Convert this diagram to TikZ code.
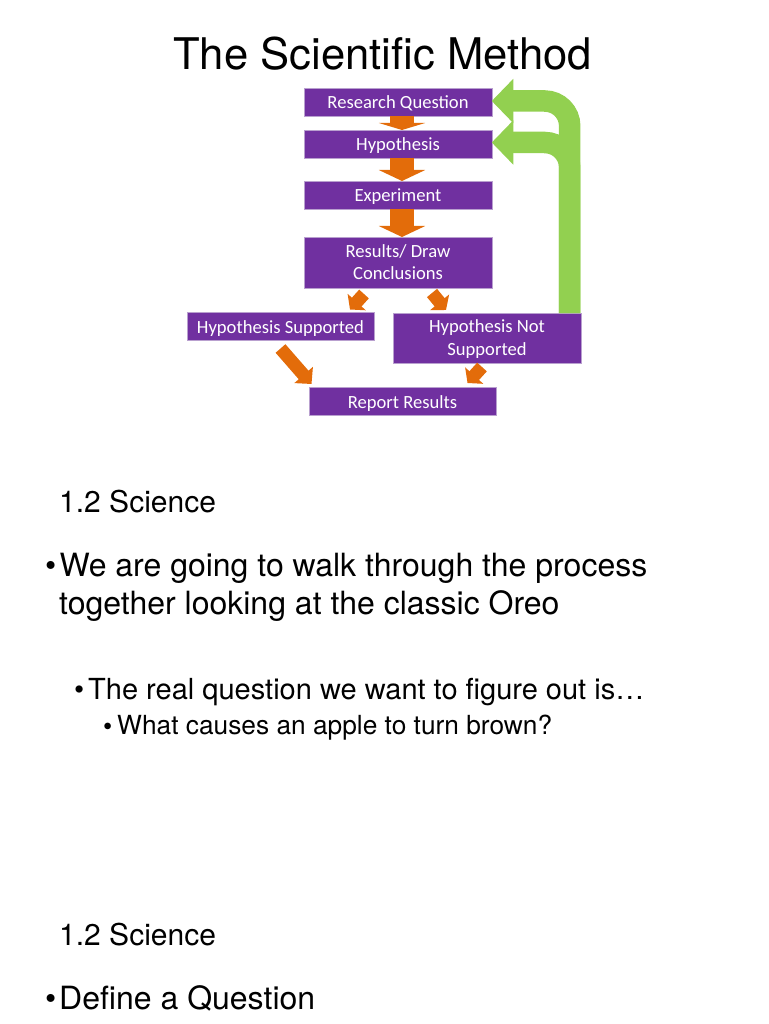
\documentclass[tikz,border=0pt]{standalone}
\usepackage{fontspec}
\setmainfont{TeX Gyre Heros}
\newfontfamily\boxfont{Carlito}
\usetikzlibrary{arrows.meta, positioning}
\definecolor{boxpurple}{HTML}{7030A0}
\definecolor{boxedge}{HTML}{B9A0CF}
\definecolor{floworange}{HTML}{E36C0A}
\definecolor{loopgreen}{HTML}{92D050}
\tikzset{
	stepbox/.style={fill=boxpurple, draw=boxedge, line width=0.5pt, outer sep=0pt, text=white, minimum width=187.5pt, minimum height=28pt, inner sep=0pt, align=center, font=\boxfont\fontsize{18.6}{22.5}\selectfont},
	oneline/.style={text height=15pt, text depth=1pt},
	twoline/.style={text height=35pt, text depth=1pt},
	flowarrow/.style={draw=floworange, line width=24pt, -{Triangle[length=#1, width=46pt]}},
	slantarrow/.style={draw=floworange, line width=13pt, -{Triangle[length=#1, width=24pt]}},
	looparrow/.style={draw=loopgreen, line width=21.5pt, rounded corners=25pt, -{Triangle[length=21.5pt, width=43pt]}},
	bodytext/.style={anchor=base west, inner sep=0pt, font=\fontsize{#1}{#1}\selectfont},
}
\begin{document}
\begin{tikzpicture}[x=1pt, y=-1pt]
	\useasboundingbox (0,0) rectangle (768,1024);

	\node[anchor=base, inner sep=0pt, font=\fontsize{43.6}{43.6}\selectfont] (title) at (382.5,70) {The Scientific Method};

	\node[stepbox, oneline] (question) at (398,102) {Research Question};
	\node[stepbox, oneline, below=14pt of question] (hypothesis) {Hypothesis};
	\node[stepbox, oneline, below=23pt of hypothesis] (experiment) {Experiment};
	\node[stepbox, twoline, below=28pt of experiment, minimum height=51pt] (results) {Results/ Draw\\Conclusions};
	\node[stepbox, oneline] (supported) at (280.5,326.5) {Hypothesis Supported};
	\node[stepbox, twoline, minimum height=50pt] (notsupported) at (487,338) {Hypothesis Not\\Supported};
	\node[stepbox, oneline] (report) at (402.5,401) {Report Results};

	\draw[flowarrow=7pt] ([xshift=4pt]question.south) -- ([xshift=4pt]hypothesis.north);
	\draw[flowarrow=11pt] ([xshift=4pt]hypothesis.south) -- ([xshift=4pt]experiment.north);
	\draw[flowarrow=11pt] ([xshift=4pt]experiment.south) -- ([xshift=4pt]results.north);

	\draw[slantarrow=10pt] ([xshift=-34pt, yshift=-6pt]results.south) -- ([xshift=69.5pt, yshift=3pt]supported.north);
	\draw[slantarrow=10pt] ([xshift=34pt, yshift=-5pt]results.south) -- ([xshift=-41pt, yshift=3pt]notsupported.north);
	\draw[slantarrow=12pt] ([xshift=0pt, yshift=-8pt]supported.south) -- ([xshift=-91pt, yshift=3pt]report.north);
	\draw[slantarrow=10pt] ([xshift=-5pt, yshift=-4pt]notsupported.south) -- ([xshift=65pt, yshift=4pt]report.north);

	\draw[looparrow] ([xshift=82.7pt]notsupported.north) |- ([yshift=1pt]question.east);
	\draw[looparrow] ([xshift=82.7pt]notsupported.north) |- ([yshift=1.5pt]hypothesis.east);

	\node[bodytext=30] (science) at (59,512) {1.2 Science};
	\node[bodytext=32] (walkbullet) at (45,576) {•};
	\node[bodytext=32] (walkone) at (59.3,576) {We are going to walk through the process};
	\node[bodytext=32] (walktwo) at (59,614) {together looking at the classic Oreo};
	\node[bodytext=29] (realbullet) at (74,699) {•};
	\node[bodytext=29] (real) at (88,699) {The real question we want to figure out is…};
	\node[bodytext=26.3] (applebullet) at (103,735) {•};
	\node[bodytext=26.3] (apple) at (117,734.5) {What causes an apple to turn brown?};
	\node[bodytext=30] (sciencetwo) at (59,945) {1.2 Science};
	\node[bodytext=32] (definebullet) at (45,1009) {•};
	\node[bodytext=32] (define) at (59,1009) {Define a Question};
\end{tikzpicture}
\end{document}
